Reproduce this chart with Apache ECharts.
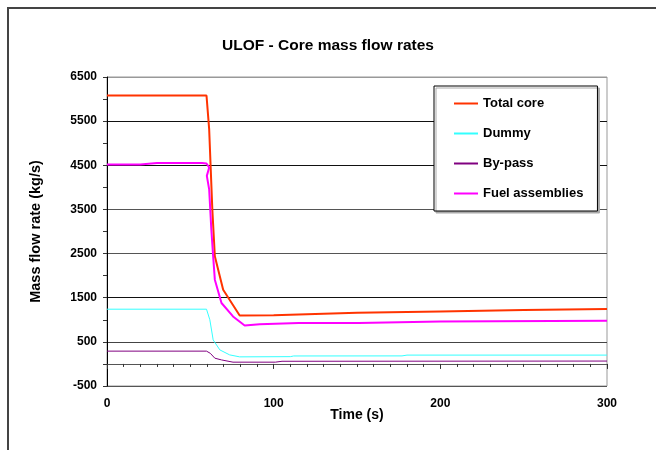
<!DOCTYPE html>
<html>
<head>
<meta charset="utf-8">
<script src="https://cdn.jsdelivr.net/npm/echarts@6/dist/echarts.min.js"></script>
<style>
  html, body { margin: 0; padding: 0; background: #fff; }
  #chart { width: 656px; height: 450px; }
</style>
</head>
<body>
<div id="chart"></div>
<script>
// time axis (s) and flow values (kg/s)
var coreTime = [0, 59.7, 61.3, 63.2, 64.7, 69.7, 79.6, 100, 110, 150, 200, 250, 300];
var coreFlow = [6080, 6080, 5318, 3500, 2438, 1682, 1098, 1100, 1115, 1160, 1190, 1220, 1245];

var dummyTime = [0, 59.7, 61.7, 63.7, 67.7, 73.6, 79.6, 110, 112, 177, 180, 300];
var dummyFlow = [1240, 1240, 1000, 545, 318, 205, 160, 165, 180, 182, 200, 200];

var bypassTime = [0, 59.7, 62, 64.7, 68.7, 75.6, 101, 105, 300];
var bypassFlow = [290, 290, 240, 130, 91, 40, 40, 60, 65];

var fuelTime = [0, 20, 30, 57, 59.7, 61.3, 59.9, 61.3, 62.6, 63.7, 64.7, 68.7, 75.6, 82.6, 91.6, 115, 151, 152, 200, 300];
var fuelFlow = [4520, 4520, 4550, 4550, 4540, 4450, 4260, 3955, 3045, 2438, 1909, 1380, 1075, 870, 900, 925, 925, 955, 960, 980];

var seriesNames = ['Total core', 'Dummy', 'By-pass', 'Fuel assemblies'];
var seriesColors = ['#FF3300', '#33FFFF', '#800080', '#FF00FF'];

function pairs(t, v) {
    var res = [];
    for (var i = 0; i < t.length; i++) {
        res.push([t[i], v[i]]);
    }
    return res;
}

var chart = echarts.init(document.getElementById('chart'));
var font = 'Arial, "Liberation Sans", sans-serif';

chart.setOption({
    animation: false,
    title: {
        text: 'ULOF - Core mass flow rates',
        left: 'center',
        top: 33,
        textStyle: { fontFamily: font, fontSize: 15.5, fontWeight: 'bold', color: '#000' }
    },
    legend: {
        orient: 'vertical',
        left: 434,
        top: 86,
        padding: [11, 14, 11, 20],
        itemGap: 17,
        itemWidth: 24,
        itemHeight: 2,
        icon: 'rect',
        backgroundColor: '#fff',
        borderColor: '#000',
        borderWidth: 1,
        borderRadius: 0,
        shadowColor: '#aaa',
        shadowOffsetX: 2,
        shadowOffsetY: 2,
        shadowBlur: 0,
        data: seriesNames,
        textStyle: { fontFamily: font, fontSize: 13, fontWeight: 'bold', color: '#000' }
    },
    grid: {
        left: 107,
        right: 49,
        top: 77,
        bottom: 64,
        show: true,
        borderColor: '#999',
        borderWidth: 1
    },
    xAxis: {
        type: 'value',
        min: 0,
        max: 300,
        interval: 100,
        name: 'Time (s)',
        nameLocation: 'middle',
        nameGap: 22,
        nameMoveOverlap: false,
        nameTextStyle: { fontFamily: font, fontSize: 14, fontWeight: 'bold', color: '#000' },
        axisLine: { lineStyle: { color: '#555', width: 1 } },
        axisTick: { length: 5, lineStyle: { color: '#333' } },
        minorTick: { show: true, splitNumber: 10, length: 3, lineStyle: { color: '#333' } },
        axisLabel: { margin: 12, fontFamily: font, fontSize: 12, fontWeight: 'bold', color: '#000' },
        splitLine: { show: false }
    },
    yAxis: {
        type: 'value',
        min: -500,
        max: 6500,
        interval: 1000,
        name: 'Mass flow rate (kg/s)',
        nameLocation: 'middle',
        nameGap: 64,
        nameRotate: 90,
        nameTextStyle: { fontFamily: font, fontSize: 14.5, fontWeight: 'bold', color: '#000' },
        axisLine: { show: true, lineStyle: { color: '#000', width: 1 } },
        axisTick: { show: true, length: 4, lineStyle: { color: '#333' } },
        minorTick: { show: true, splitNumber: 2, length: 4, lineStyle: { color: '#333' } },
        axisLabel: {
            margin: 10,
            fontFamily: font,
            fontSize: 12,
            fontWeight: 'bold',
            color: '#000',
            formatter: function (v) { return String(v); }
        },
        splitLine: {
            show: true,
            lineStyle: {
                color: ['#555', '#444', '#111', '#555', '#555', '#111', '#111', '#999'],
                width: 1
            }
        }
    },
    graphic: [{
        type: 'rect',
        shape: { x: 8, y: 8, width: 700, height: 500 },
        style: { fill: 'none', stroke: '#444', lineWidth: 2 },
        silent: true
    }],
    series: [
        {
            name: seriesNames[0],
            type: 'line',
            symbol: 'none',
            color: seriesColors[0],
            lineStyle: { width: 2 },
            data: pairs(coreTime, coreFlow)
        },
        {
            name: seriesNames[1],
            type: 'line',
            symbol: 'none',
            color: seriesColors[1],
            lineStyle: { width: 1 },
            data: pairs(dummyTime, dummyFlow)
        },
        {
            name: seriesNames[2],
            type: 'line',
            symbol: 'none',
            color: seriesColors[2],
            lineStyle: { width: 1 },
            data: pairs(bypassTime, bypassFlow)
        },
        {
            name: seriesNames[3],
            type: 'line',
            symbol: 'none',
            color: seriesColors[3],
            lineStyle: { width: 2 },
            data: pairs(fuelTime, fuelFlow)
        }
    ]
});
</script>
</body>
</html>
